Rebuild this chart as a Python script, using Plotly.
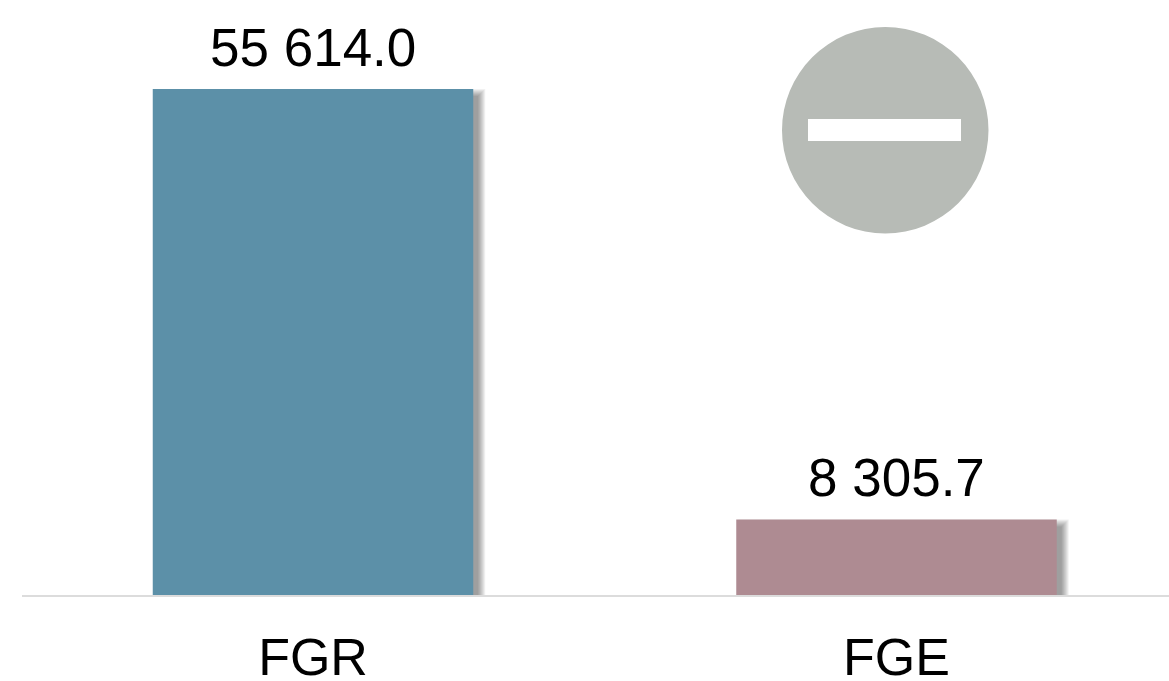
import plotly.graph_objects as go

categories = ["FGR", "FGE"]
values = [55614.0, 8305.7]
labels = ["55 614.0", "8 305.7"]
colors = ["#5c90a8", "#ae8b92"]

W, H = 1169, 681
ML, MB = 22, 86
PLOT_W, PLOT_H = W - ML, H - MB
PX_PER_CAT = 583.5
YMAX = 65400.0
X_START = -291 / PX_PER_CAT
BAR_W = 320.5 / PX_PER_CAT
dx = 1 / PX_PER_CAT
dy = YMAX / PLOT_H

fig = go.Figure()
# blurred drop shadow: stacked translucent bars, widest first
SHADOW_SHIFT = 6
for b in [6, 5, 4, 3, 2, 1, 0, -1]:
    fig.add_trace(go.Bar(
        x=categories,
        y=[v - (SHADOW_SHIFT - b) * dy for v in values],
        offset=-BAR_W / 2 + 2 * dx,
        width=BAR_W - 2 * dx + (SHADOW_SHIFT + b) * dx,
        marker=dict(color="#000000", line_width=0),
        opacity=0.055,
        hoverinfo="skip",
        showlegend=False,
    ))
fig.add_trace(go.Bar(
    x=categories, y=values, width=BAR_W,
    marker=dict(color=colors, line_width=0),
    showlegend=False,
))
annotations = [
    dict(x=c, y=v, xref="x", yref="y", text=t, showarrow=False, yanchor="bottom",
         yshift=10, font=dict(family="Liberation Sans", size=53, color="#000000"))
    for c, v, t in zip(categories, values, labels)
]
fig.update_layout(
    width=W, height=H, margin=dict(l=ML, r=0, t=0, b=MB, pad=0, autoexpand=False),
    paper_bgcolor="white", plot_bgcolor="white", barmode="overlay",
    annotations=annotations,
    xaxis=dict(type="category", range=[X_START, X_START + PLOT_W / PX_PER_CAT],
               showgrid=False, zeroline=False, showline=True, linecolor="#dcdcdc", linewidth=2,
               ticks="", ticklabelstandoff=16, automargin=False,
               tickfont=dict(family="Liberation Sans", size=52, color="#000000")),
    yaxis=dict(visible=False, range=[0, YMAX], automargin=False),
    shapes=[
        dict(type="circle", xref="paper", yref="paper",
             x0=(782 - ML) / PLOT_W, x1=(988.5 - ML) / PLOT_W,
             y0=(PLOT_H - 233.5) / PLOT_H, y1=(PLOT_H - 27) / PLOT_H,
             fillcolor="#b7bbb6", line_width=0),
        dict(type="rect", xref="paper", yref="paper",
             x0=(808 - ML) / PLOT_W, x1=(961 - ML) / PLOT_W,
             y0=(PLOT_H - 141) / PLOT_H, y1=(PLOT_H - 119) / PLOT_H,
             fillcolor="#ffffff", line_width=0),
    ],
)
fig.write_html("out.html", post_script="document.body.style.margin='0';",
               config={"displayModeBar": False})
